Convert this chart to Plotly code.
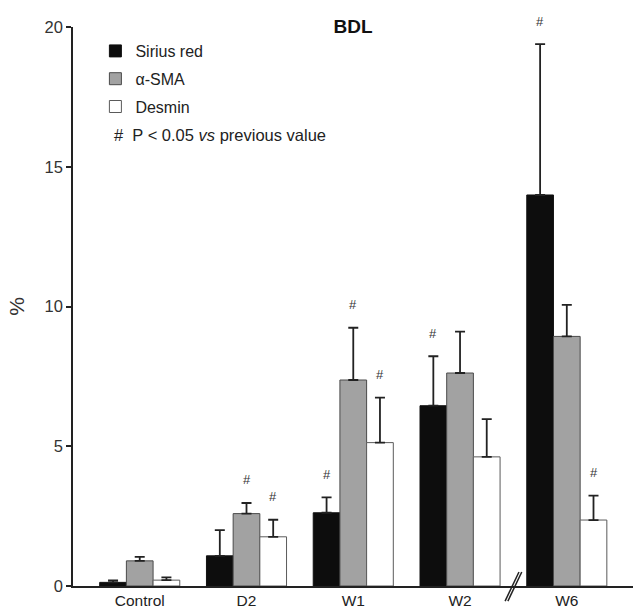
import plotly.graph_objects as go

categories = ["Control", "D2", "W1", "W2", "W6"]
series_names = ["Sirius red", "α-SMA", "Desmin"]
sirius = [0.13, 1.08, 2.62, 6.45, 13.99]
sirius_err = [0.07, 0.92, 0.55, 1.77, 5.4]
sma = [0.90, 2.59, 7.37, 7.62, 8.93]
sma_err = [0.14, 0.38, 1.87, 1.48, 1.13]
desmin = [0.21, 1.76, 5.13, 4.62, 2.36]
desmin_err = [0.10, 0.61, 1.61, 1.35, 0.87]
sirius_sig = [False, False, True, True, True]
sma_sig = [False, True, True, False, False]
desmin_sig = [False, True, True, False, True]
y_ticks = [0, 5, 10, 15, 20]

values = [sirius, sma, desmin]
errors = [sirius_err, sma_err, desmin_err]
sigs = [sirius_sig, sma_sig, desmin_sig]
fills = ["#0d0d0d", "#a2a2a2", "#ffffff"]
outlines = ["#111111", "#4a4a4a", "#5a5a5a"]

FONT = "Liberation Sans, Arial, sans-serif"
fig = go.Figure()
xs = list(range(len(categories)))
for i, name in enumerate(series_names):
    fig.add_trace(go.Bar(
        x=xs, y=values[i], name=name,
        marker=dict(color=fills[i], line=dict(color=outlines[i], width=1)),
        error_y=dict(type="data", symmetric=False, array=errors[i],
                     arrayminus=[0] * len(categories),
                     color="#222222", thickness=1.8, width=5),
        legendgroup=name,
    ))

# significance marks
bar_px = 26.7
for i in range(3):
    for j, c in enumerate(xs):
        if sigs[i][j]:
            fig.add_annotation(x=c, y=values[i][j] + errors[i][j], xref="x", yref="y",
                               text="#", showarrow=False, xshift=(i - 1) * bar_px,
                               yshift=23, yanchor="middle",
                               font=dict(family=FONT, size=13, color="#333333"))

# axis break mark
for dx in (-0.013, 0.013):
    fig.add_shape(type="line", xref="x", yref="paper",
                  x0=3.5 - 0.065 + dx, x1=3.5 + 0.065 + dx, y0=-0.027, y1=0.025,
                  line=dict(color="#222222", width=1.5))

fig.add_annotation(xref="paper", yref="paper", x=(112 - 73) / 560, y=(586 - 135) / 559,
                   xanchor="left", yanchor="middle", showarrow=False,
                   text="#&nbsp;&nbsp;P &lt; 0.05 <i>vs</i> previous value",
                   font=dict(family=FONT, size=16.5, color="#222222"))

fig.update_layout(
    width=633, height=608,
    margin=dict(l=73, r=0, t=27, b=22),
    paper_bgcolor="white", plot_bgcolor="white",
    barmode="group", bargap=0.25, bargroupgap=0,
    font=dict(family=FONT, color="#222222"),
    title=dict(text="<b>BDL</b>", x=(353 - 0) / 633, xanchor="center",
               y=1 - 26 / 608, yanchor="middle",
               font=dict(family=FONT, size=19, color="#111111")),
    showlegend=True,
    legend=dict(x=0.04, y=1 - (34 - 27) / 559, xanchor="left", yanchor="top",
                font=dict(family=FONT, size=16, color="#222222"),
                tracegroupgap=4, bgcolor="rgba(0,0,0,0)", traceorder="grouped"),
    xaxis=dict(range=[-0.625, 4.62], tickmode="array", tickvals=xs, ticktext=categories,
               showline=True, linecolor="#222222", linewidth=1.5, ticks="",
               automargin=False,
               showgrid=False, zeroline=False,
               tickfont=dict(family=FONT, size=15.5, color="#222222")),
    yaxis=dict(range=[0, 20], tickmode="array", tickvals=y_ticks, automargin=False,
               showline=True, linecolor="#222222", linewidth=1.5,
               ticks="outside", ticklen=5, tickwidth=1.5, tickcolor="#222222",
               showgrid=False, zeroline=False,
               tickfont=dict(family=FONT, size=16.5, color="#333333"),
               title=dict(text="%", standoff=14,
                          font=dict(family=FONT, size=21, color="#333333"))),
)

fig.write_html("out.html")
